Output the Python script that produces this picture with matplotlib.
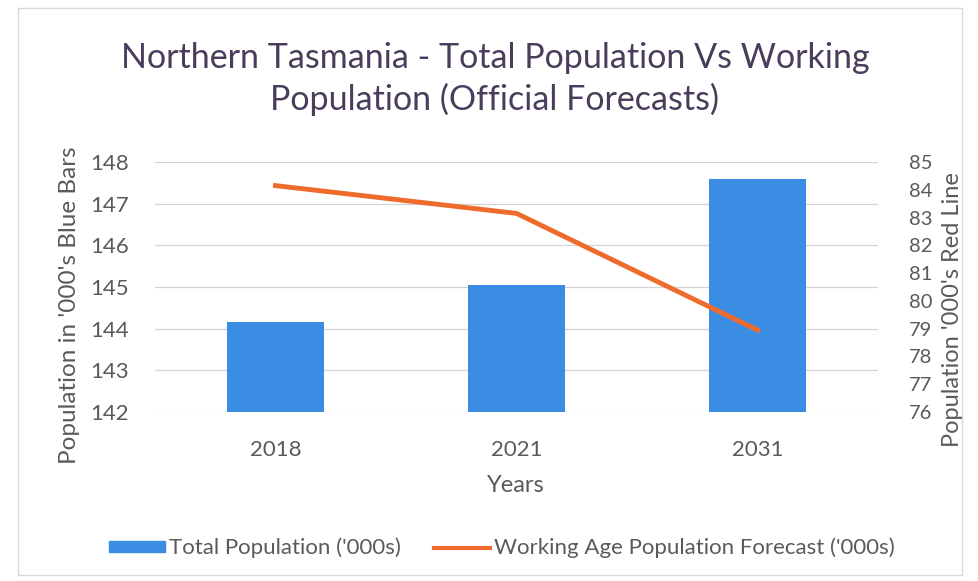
import matplotlib
matplotlib.use("Agg")
import matplotlib.pyplot as plt
from matplotlib.patches import Rectangle, Patch
from matplotlib.lines import Line2D

years = ["2018", "2021", "2031"]
total_population = [144.15, 145.05, 147.6]
working_population = [84.15, 83.15, 78.95]
left_ticks = [142, 143, 144, 145, 146, 147, 148]
right_ticks = [76, 77, 78, 79, 80, 81, 82, 83, 84, 85]

plt.rcParams['font.family'] = ['Lato', 'DejaVu Sans']

BLUE = "#3b8de3"
ORANGE = "#ef6b2c"
TEXT = "#5a5a5a"
TITLE = "#4a3d5c"

W, H = 979, 581
fig = plt.figure(figsize=(W/100, H/100), dpi=100)
ax = fig.add_axes([155/W, 1-412/H, (878-155)/W, (412-162)/H])

x = list(range(len(years)))
ax.bar(x, [v - 142 for v in total_population], bottom=142, width=0.4, color=BLUE, zorder=2)
ax.set_xlim(-0.5, 2.5)
ax.set_ylim(142, 148)
ax.set_yticks(left_ticks)
ax.set_xticks(x)
ax.set_xticklabels(years)
ax.grid(axis='y', color='#d4d4d4', linewidth=0.9, zorder=0)
for s in ax.spines.values():
    s.set_visible(False)
ax.tick_params(axis='both', length=0, colors=TEXT, labelsize=16)
ax.tick_params(axis='x', pad=20)
ax.tick_params(axis='y', pad=19)

ax2 = ax.twinx()
ax2.plot(x, working_population, color=ORANGE, linewidth=3.5, zorder=3)
ax2.set_ylim(76, 85)
ax2.set_yticks(right_ticks)
for s in ax2.spines.values():
    s.set_visible(False)
ax2.tick_params(axis='y', length=0, colors=TEXT, labelsize=14.5, pad=22)

fig.text(70/W, 1-305/H, "Population in '000's Blue Bars", rotation=90, ha='center', va='center',
         fontsize=17.5, color=TEXT)
fig.text(953/W, 1-310/H, "Population '000's Red Line", rotation=90, ha='center', va='center',
         fontsize=17, color=TEXT)
fig.text(516/W, 1-485/H, "Years", ha='center', va='center', fontsize=17, color=TEXT)

fig.text(495/W, 1-79/H, "Northern Tasmania - Total Population Vs Working\nPopulation (Official Forecasts)",
         ha='center', va='center', fontsize=24.5, color=TITLE, linespacing=1.3)

handles = [Patch(facecolor=BLUE, edgecolor=BLUE),
           Line2D([0], [0], color=ORANGE, linewidth=3)]
labels = ["Total Population ('000s)", "Working Age Population Forecast ('000s)"]
fig.legend(handles, labels, loc='center', bbox_to_anchor=(502/W, 1-548/H), ncol=2,
           frameon=False, fontsize=16, labelcolor=TEXT, handlelength=2.5, handleheight=0.4,
           handletextpad=0.2, columnspacing=1.5)

fig.patches.append(Rectangle((18/W, 1-575/H), (962-18)/W, (575-8)/H, transform=fig.transFigure,
                             fill=False, edgecolor='#d9d9d9', linewidth=1))

fig.savefig("out.png", dpi=100)
